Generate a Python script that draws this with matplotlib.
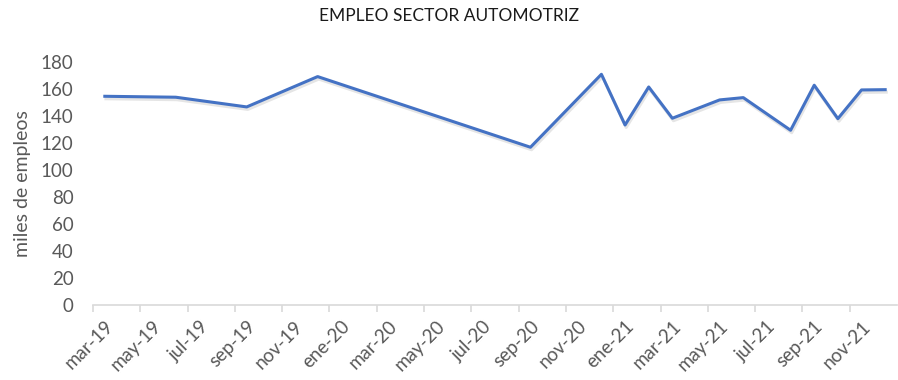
import matplotlib
matplotlib.use("Agg")
import matplotlib.pyplot as plt
import matplotlib.patheffects as pe
import pandas as pd

# Monthly automotive-sector employment (thousands of jobs)
months = ["2019-03", "2019-06", "2019-09", "2019-12", "2020-09", "2020-12",
          "2021-01", "2021-02", "2021-03", "2021-05", "2021-06", "2021-08",
          "2021-09", "2021-10", "2021-11", "2021-12"]
values = [154.8, 154.1, 146.9, 169.4, 117.0, 171.1,
          133.5, 161.7, 138.5, 152.1, 153.8, 129.6,
          163.0, 138.2, 159.5, 159.7]

tick_labels = ["mar-19", "may-19", "jul-19", "sep-19", "nov-19", "ene-20",
               "mar-20", "may-20", "jul-20", "sep-20", "nov-20", "ene-21",
               "mar-21", "may-21", "jul-21", "sep-21", "nov-21"]
yticks = [0, 20, 40, 60, 80, 100, 120, 140, 160, 180]

plt.rcParams["font.family"] = ["Lato", "DejaVu Sans"]

start = pd.Period("2019-03", freq="M")
end = pd.Period("2022-01", freq="M")
# each month occupies one slot; points sit in the middle of their slot
x = [(pd.Period(m, freq="M") - start).n + 0.5 for m in months]
n_slots = (end - start).n

fig = plt.figure(figsize=(8.98, 3.8), dpi=100)
ax = fig.add_axes([93 / 898, 75 / 380, 804 / 898, 242.7 / 380])

ax.plot(x, values, color="#4472C4", lw=2.2, solid_joinstyle="round",
        path_effects=[pe.SimpleLineShadow(offset=(0.8, -1.8), shadow_color="#000000", alpha=0.1),
                      pe.Normal()])

ax.set_xlim(0, n_slots)
ax.set_ylim(0, 180)

grey = "#595959"
# tick marks at slot boundaries, labels centred on slots
boundaries = list(range(0, 2 * len(tick_labels), 2))
ax.set_xticks(boundaries)
ax.set_xticklabels([])
ax.tick_params(axis="x", which="major", length=5, width=1.2, color="#D9D9D9", direction="out")
ax.set_xticks([b + 0.5 for b in boundaries], minor=True)
ax.set_xticklabels(tick_labels, minor=True, rotation=45, ha="right",
                   rotation_mode="anchor", fontsize=13.5, color=grey)
ax.tick_params(axis="x", which="minor", length=0, pad=9)

ax.set_yticks(yticks)
ax.set_yticklabels([str(v) for v in yticks], fontsize=13.5, color=grey)
ax.tick_params(axis="y", length=0, pad=14)

for side in ["top", "right", "left"]:
    ax.spines[side].set_visible(False)
ax.spines["bottom"].set_color("#D9D9D9")
ax.spines["bottom"].set_linewidth(1.2)

ax.set_ylabel("miles de empleos", fontsize=14, color=grey, labelpad=7)
fig.text(0.5, 1 - 16 / 380, "EMPLEO SECTOR AUTOMOTRIZ", ha="center", va="center",
         fontsize=12.5, color="#1a1a1a")

fig.savefig("out.png", dpi=100)
